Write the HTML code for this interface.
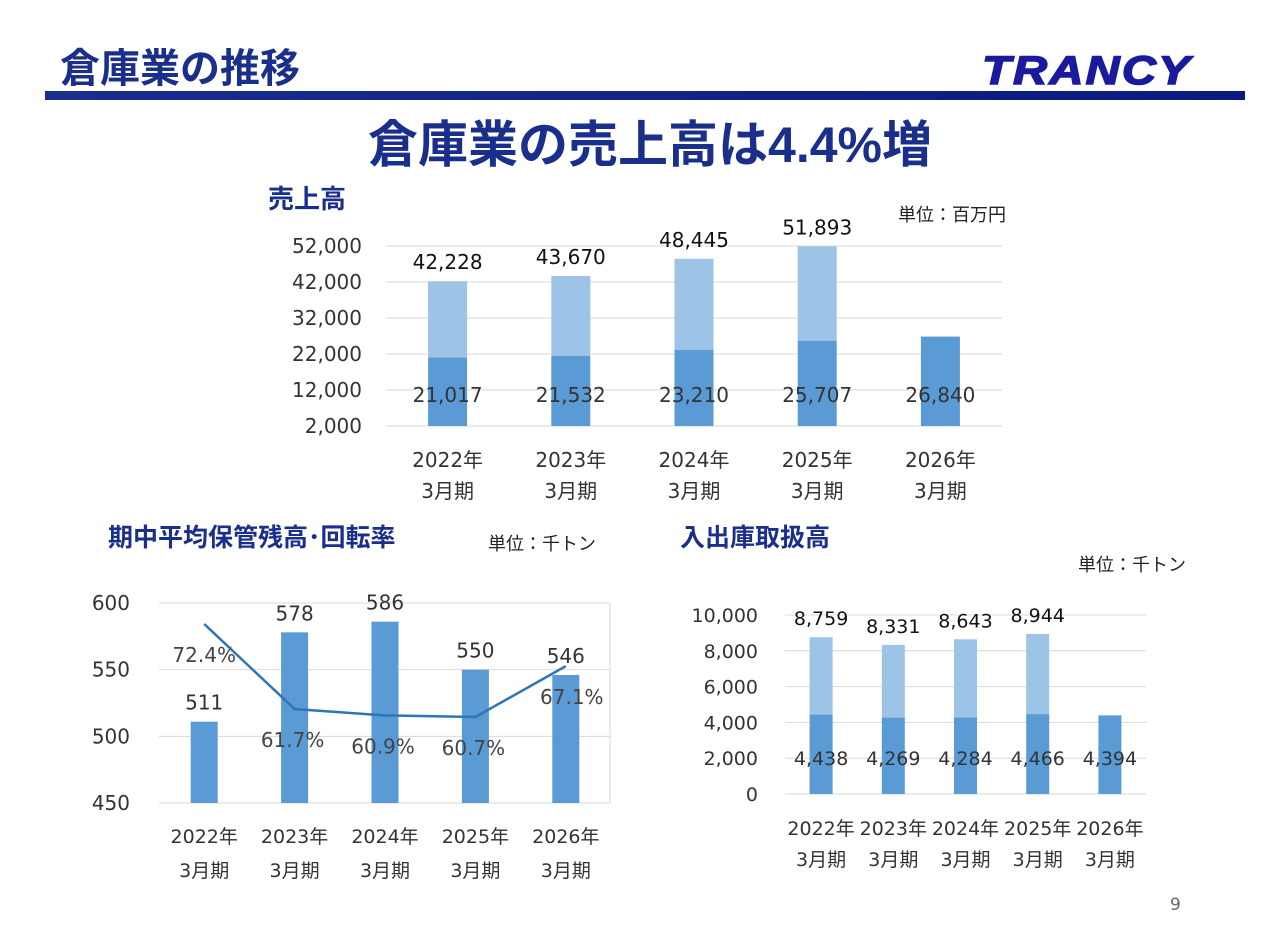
<!DOCTYPE html>
<html><head><meta charset="utf-8">
<style>
body{margin:0;background:#fff;}
svg{display:block;font-family:"Liberation Sans","Noto Sans CJK JP",sans-serif;}
.n{font-family:"DejaVu Sans","Noto Sans CJK JP",sans-serif;}
</style></head>
<body>
<svg id="s" width="1280" height="947" viewBox="0 0 1280 947" xmlns="http://www.w3.org/2000/svg">
<defs><linearGradient id="hb" x1="0" x2="1"><stop offset="0" stop-color="#1a2f8c"/><stop offset="1" stop-color="#0a1a80"/></linearGradient></defs>
<text x="60" y="82" font-size="40" font-weight="bold" fill="#1a2f8c">倉庫業の推移</text>
<g>
<text x="982" y="84" font-size="40" font-weight="900" font-style="italic" fill="#1a1a9c" letter-spacing="2" textLength="210" lengthAdjust="spacingAndGlyphs" stroke="#1a1a9c" stroke-width="1.5">TRANCY</text>
</g>
<rect x="45" y="91" width="1200" height="9" fill="url(#hb)"/>
<text x="650" y="162" font-size="50" font-weight="bold" fill="#1a2f8c" text-anchor="middle">倉庫業の売上高は4.4%増</text>
<text x="268" y="208" font-size="26" font-weight="bold" fill="#1a2f8c">売上高</text>
<text x="898" y="221" font-size="18" fill="#222">単位：百万円</text>
<text x="108" y="546" font-size="25" font-weight="bold" fill="#1a2f8c">期中平均保管残高･回転率</text>
<text x="488" y="550" font-size="18" fill="#222">単位：千トン</text>
<text x="680" y="546" font-size="25" font-weight="bold" fill="#1a2f8c">入出庫取扱高</text>
<text x="1078" y="571" font-size="18" fill="#222">単位：千トン</text>
<text x="1170" y="910" font-size="17" fill="#666" class="n">9</text>
<g id="c1" class="n"></g><g id="c2" class="n"></g><g id="c3" class="n"></g>
</svg>
<script>
const cats=["2022年","2023年","2024年","2025年","2026年"];
const salesBase=[21017,21532,23210,25707,26840];
const salesTotal=[42228,43670,48445,51893,null];
const salesTicks=[2000,12000,22000,32000,42000,52000];
const storVals=[511,578,586,550,546];
const storRate=[72.4,61.7,60.9,60.7,67.1];
const storTicks=[450,500,550,600];
const handBase=[4438,4269,4284,4466,4394];
const handTotal=[8759,8331,8643,8944,null];
const handTicks=[0,2000,4000,6000,8000,10000];

const NS="http://www.w3.org/2000/svg";
function mk(p,t,a,txt){const e=document.createElementNS(NS,t);for(const k in a)e.setAttribute(k,a[k]);if(txt!=null)e.textContent=txt;p.appendChild(e);return e;}
const fmt=v=>v.toLocaleString("en-US");

function stacked(g,o){
  const y=v=>o.y0-(v-o.min)/(o.max-o.min)*(o.y0-o.y1);
  const x=i=>o.x0+(i+0.5)*(o.x1-o.x0)/cats.length;
  o.ticks.forEach(t=>{
    const l=mk(g,"line",{x1:o.x0,x2:o.x1,y1:y(t),y2:y(t),stroke:"#d9d9d9","stroke-width":1});
    
    
    const tx=mk(g,"text",{x:o.lx,y:y(t)+7,"font-size":o.fs,"text-anchor":"end",fill:"#333"},fmt(t));
    
    
  });
  cats.forEach((c,i)=>{
    const cx=x(i);
    const b=mk(g,"rect",{x:cx-o.bw/2,y:y(o.base[i]),width:o.bw,height:y(o.min)-y(o.base[i]),fill:"#5b9bd5"});
    
    
    const bl=mk(g,"text",{x:cx,y:o.baseLabelY,"font-size":o.fs,"text-anchor":"middle",fill:"#333"},fmt(o.base[i]));
    
    
    if(o.total[i]!=null){
      const t=mk(g,"rect",{x:cx-o.bw/2,y:y(o.total[i]),width:o.bw,height:y(o.base[i])-y(o.total[i]),fill:"#9dc3e6"});
      
      
      const tl=mk(g,"text",{x:cx,y:y(o.total[i])-o.tOff,"font-size":o.fs,"text-anchor":"middle",fill:"#111"},fmt(o.total[i]));
      
      
    }
    const c1=mk(g,"text",{x:cx,y:o.catY,"font-size":o.fs,"text-anchor":"middle",fill:"#333"},c);
    
    
    const c2=mk(g,"text",{x:cx,y:o.catY+o.catGap,"font-size":o.fs,"text-anchor":"middle",fill:"#333"},"3月期");
    
    
  });
}
stacked(document.getElementById("c1"),{x0:386,x1:1002,y0:426,y1:246,min:2000,max:52000,ticks:salesTicks,base:salesBase,total:salesTotal,bw:39,lx:362,fs:20,baseLabelY:402,tOff:12,catY:467,catGap:31});
stacked(document.getElementById("c3"),{x0:785,x1:1146,y0:794,y1:615,min:0,max:10000,ticks:handTicks,base:handBase,total:handTotal,bw:23,lx:758,fs:19,baseLabelY:765,tOff:12,catY:835,catGap:31});
(function(){
  const g=document.getElementById("c2");
  const y=v=>803-(v-450)/150*200;
  const yr=v=>717-(v-60.7)*7.95;
  const x=i=>159+(i+0.5)*90.4;
  storTicks.forEach(t=>{
    const l=mk(g,"line",{x1:159,x2:610,y1:y(t),y2:y(t),stroke:"#d9d9d9","stroke-width":1});
    
    
    const tx=mk(g,"text",{x:130,y:y(t)+7,"font-size":20,"text-anchor":"end",fill:"#333"},t);
    
    
  });
  const ax=mk(g,"line",{x1:610,x2:610,y1:603,y2:803,stroke:"#d9d9d9"});
  
  
  const rOff=[38,38,38,38,-34];
  cats.forEach((c,i)=>{
    const cx=x(i);
    const b=mk(g,"rect",{x:cx-13.5,y:y(storVals[i]),width:27,height:803-y(storVals[i]),fill:"#5b9bd5"});
    
    
    const bl=mk(g,"text",{x:cx,y:y(storVals[i])-12,"font-size":20,"text-anchor":"middle",fill:"#333"},storVals[i]);
    
    
    const rl=mk(g,"text",{x:cx+(i==0?0:i==4?6:-2),y:yr(storRate[i])+rOff[i]+(i==4?72:0),"font-size":20,"text-anchor":"middle",fill:"#444"},storRate[i]+"%");
    
    
    const c1=mk(g,"text",{x:cx,y:843,"font-size":19,"text-anchor":"middle",fill:"#333"},c);
    
    
    const c2=mk(g,"text",{x:cx,y:877,"font-size":19,"text-anchor":"middle",fill:"#333"},"3月期");
    
    
  });
  const pl=mk(g,"polyline",{points:storRate.map((v,i)=>x(i)+","+yr(v)).join(" "),fill:"none",stroke:"#2e75b6","stroke-width":2.5});
  
  
})();
</script>
</body></html>
